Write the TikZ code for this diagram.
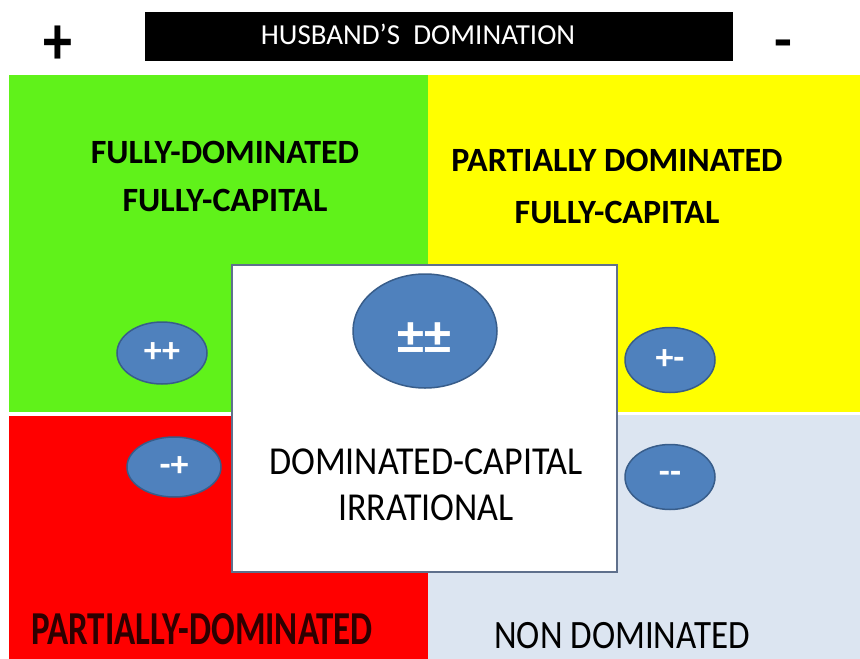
\documentclass[tikz,border=0pt]{standalone}
\usepackage{fontspec}
\setmainfont{Carlito}
\usetikzlibrary{shapes.geometric}
\definecolor{qgreen}{RGB}{96,242,26}
\definecolor{qyellow}{RGB}{255,255,0}
\definecolor{qred}{RGB}{255,0,0}
\definecolor{qblue}{RGB}{220,229,241}
\definecolor{blobfill}{RGB}{79,129,189}
\definecolor{blobline}{RGB}{56,93,138}
\definecolor{boxline}{RGB}{95,112,140}
\definecolor{darkred}{RGB}{45,0,0}
\tikzset{
  blob/.style={ellipse,fill=blobfill,draw=blobline,line width=1.5pt,text=white,inner sep=0pt,font=\bfseries\fontsize{36}{36}\selectfont},
  quadtxt/.style={align=center,inner sep=0pt,font=\bfseries\fontsize{34}{48}\selectfont},
}
\begin{document}
\begin{tikzpicture}[x=1pt,y=-1pt]
\useasboundingbox (0,0) rectangle (860,659);
\fill[white] (0,0) rectangle (860,659);
\fill[qgreen] (9,75) rectangle (428,412);
\fill[qyellow] (428,75) rectangle (860,412);
\fill[qred] (9,416) rectangle (428,659);
\fill[qblue] (428,415) rectangle (860,659);
\node[fill=black,minimum width=588pt,minimum height=49pt,inner sep=0pt] (bar) at (439,36.5) {};
\node[text=white,inner sep=0pt,font=\fontsize{29}{29}\selectfont] (husband) at (418,34) {HUSBAND'S~~DOMINATION};
\node[inner sep=0pt,yscale=1.2,font=\bfseries\fontsize{58}{58}\selectfont] (plus) at (58,45) {+};
\node[inner sep=0pt,font=\bfseries\fontsize{58}{58}\selectfont] (minus) at (783,50) {-};
\node[quadtxt] (fullfull) at (225,176) {FULLY-DOMINATED\\FULLY-CAPITAL};
\node[quadtxt,font=\bfseries\fontsize{34}{52}\selectfont] (partfull) at (617,186) {PARTIALLY DOMINATED\\FULLY-CAPITAL};
\node[inner sep=0pt,yscale=1.35,text=darkred,font=\bfseries\fontsize{35}{35}\selectfont] (partdom) at (202,629) {PARTIALLY-DOMINATED};
\node[inner sep=0pt,yscale=1.15,font=\fontsize{35}{35}\selectfont] (nondom) at (622,636) {NON DOMINATED};
\node[draw=boxline,fill=white,line width=1.2pt,minimum width=385pt,minimum height=307pt] (core) at (424.5,418.5) {};
\node[align=center,inner sep=0pt,yscale=1.1,font=\fontsize{36}{42}\selectfont] (coretxt) at (426,485) {DOMINATED-CAPITAL\\IRRATIONAL};
\foreach \n/\x/\y/\w/\h/\t in {pp/162/353/90/62/{++}, pm/670/360/90/65/{+-}, mp/174/467/94/60/{-+}, mm/670/477/90/65/{-{}-}}
  \node[blob,minimum width=\w pt,minimum height=\h pt] (\n) at (\x,\y) {\t};
\node[blob,minimum width=144pt,minimum height=114pt] (both) at (425,331) {};
\node[text=white,inner sep=0pt,font=\bfseries\fontsize{54}{54}\selectfont] (bothtxt) at (424,339) {±±};
\end{tikzpicture}
\end{document}
